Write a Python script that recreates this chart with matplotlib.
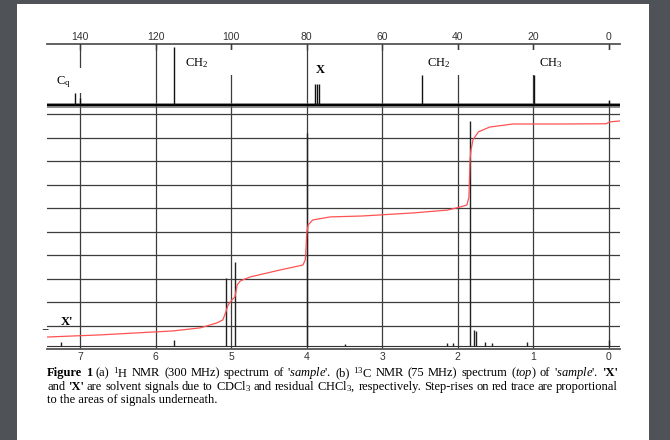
import numpy as np
import matplotlib.pyplot as plt
from matplotlib.patches import Rectangle

plt.rcParams['font.family'] = ['Liberation Sans', 'DejaVu Sans']
plt.rcParams['mathtext.fontset'] = 'custom'
plt.rcParams['mathtext.rm'] = 'Liberation Serif'
plt.rcParams['mathtext.it'] = 'Liberation Serif:italic'
plt.rcParams['mathtext.bf'] = 'Liberation Serif:bold'

# 1H spectrum (bottom scale): peak shifts in ppm, peak tops in grid units
h_ppm  = [7.25, 5.76, 5.07, 4.95, 4.00, 3.49, 2.14, 2.06, 1.84, 1.78, 1.76, 1.64, 1.55, 1.08, 0.00]
h_top  = [0.30, 0.38, 3.03, 3.71, 9.21, 0.22, 0.26, 0.26, 9.72, 0.81, 0.78, 0.30, 0.26, 0.30, 0.38]
h_base = 0.13

# 13C spectrum (top scale)
c_ppm  = [141.3, 140.0, 115.2, 77.7, 77.2, 76.7, 49.5, 19.8, 0.0]
c_top  = [10.91, 10.70, 12.87, 11.30, 11.30, 11.30, 11.68, 11.68, 10.62]
c_base = 10.40

int_ppm = [7.44, 6.74, 5.77, 5.41, 5.19, 5.11, 5.07, 5.04, 4.99, 4.95, 4.92, 4.88,
           4.75, 4.35, 4.05, 4.02, 4.01, 4.00, 3.98, 3.92, 3.69, 3.26, 2.59, 2.14,
           1.97, 1.88, 1.853, 1.839, 1.826, 1.80, 1.73, 1.58, 1.27, 0.65, 0.04,
           -0.01, -0.15]
int_val = [0.51, 0.60, 0.77, 0.90, 1.11, 1.24, 1.58, 1.88, 2.09, 2.22, 2.73, 2.90,
           3.07, 3.37, 3.58, 3.79, 4.22, 4.94, 5.29, 5.50, 5.63, 5.67, 5.80, 5.92,
           6.05, 6.14, 6.48, 8.06, 8.48, 8.91, 9.25, 9.46, 9.59, 9.59, 9.60,
           9.68, 9.72]

h_ticks = [7, 6, 5, 4, 3, 2, 1, 0]
c_ticks = [140, 120, 100, 80, 60, 40, 20, 0]

labels = [("C$_\\mathrm{q}$", 7.225, 11.38, 'normal'),
          ("CH$_2$", 5.45, 12.19, 'normal'),
          ("X", 3.82, 11.89, 'bold'),
          ("CH$_2$", 2.25, 12.19, 'normal'),
          ("CH$_3$", 0.77, 12.19, 'normal'),
          ("X'", 7.17, 1.15, 'bold')]

# caption words, (text, bold); lines 1 and 2 are justified
cap1 = [("Figure", 1), ("1", 1), ("(a)", 0), ("$^{1}$H", 0), ("NMR", 0), ("(300", 0),
        ("MHz)", 0), ("spectrum", 0), ("of", 0), ("'$\\mathit{sample}$'.", 0), ("(b)", 0),
        ("$^{13}$C", 0), ("NMR", 0), ("(75", 0), ("MHz)", 0), ("spectrum", 0),
        ("($\\mathit{top}$)", 0), ("of", 0), ("'$\\mathit{sample}$'.", 0), ("'X'", 1)]
cap2 = [("and", 0), ("'X'", 1), ("are", 0), ("solvent", 0), ("signals", 0), ("due", 0),
        ("to", 0), ("CDCl$_3$", 0), ("and", 0), ("residual", 0), ("CHCl$_3$,", 0),
        ("respectively.", 0), ("Step-rises", 0), ("on", 0), ("red", 0), ("trace", 0),
        ("are", 0), ("proportional", 0)]
cap3 = "to the areas of signals underneath."

fig = plt.figure(figsize=(6.7, 4.4), dpi=100, facecolor='#4f5357')
fig.add_artist(Rectangle((17/670, 0), 632/670, 436/440, transform=fig.transFigure,
                         facecolor='white', edgecolor='none', zorder=-10))

ax = fig.add_axes([47/670, 91/440, 573/670, 305/440])
ax.set_facecolor('none')
ax.set_xlim(7.437, -0.146)
ax.set_ylim(0, 13)

# grid
for v in h_ticks:
    ax.axvline(v, color='#3c3c3c', lw=0.9, zorder=1)
for k in range(1, 11):
    ax.axhline(k, color='#3c3c3c', lw=0.9, zorder=1)

# white label boxes hiding the grid in the 13C strip
for x0, x1, y0, y1 in [(7.40, 6.89, 10.91, 11.98), (5.68, 4.94, 11.68, 12.75),
                       (2.435, 1.945, 11.68, 12.75), (1.045, -0.08, 11.68, 12.75),
                       (0.08, -0.08, 10.55, 11.68)]:
    ax.add_patch(Rectangle((x1, y0), x0 - x1, y1 - y0, facecolor='white',
                           edgecolor='none', zorder=1.5))

# 1H spectrum
ax.axhline(h_base, color='#333333', lw=0.8, zorder=3)
ax.vlines(h_ppm, h_base, h_top, color='#222222', lw=1.0, zorder=3)

# 13C spectrum (fuzzy noisy baseline)
ax.axhline(c_base, color='#555555', lw=3.4, alpha=0.75, zorder=2.8)
ax.axhline(c_base, color='#000000', lw=1.4, zorder=3)
ax.vlines(np.array(c_ppm) / 20, c_base, c_top, color='#111111', lw=1.0, zorder=3)

# integral
ax.plot(int_ppm, int_val, color='#ff5252', lw=0.9, zorder=4)

for txt, x, y, w in labels:
    ax.text(x, y, txt, ha='center', va='center', fontsize=9, fontweight=w,
            family='Liberation Serif', zorder=5)
ax.text(7.47, 1.0, "_", ha='center', va='center', fontsize=7, clip_on=False)

for s in ['left', 'right', 'top']:
    ax.spines[s].set_visible(False)
ax.spines['bottom'].set_color('#555555')
ax.spines['bottom'].set_linewidth(1.3)
ax.set_yticks([])
ax.set_xticks(h_ticks)
ax.tick_params(axis='x', length=0, pad=2.0, labelsize=7.5, labelcolor='#333333')

sec = ax.secondary_xaxis('top', functions=(lambda x: x * 20, lambda x: x / 20))
sec.set_xticks(c_ticks)
sec.tick_params(direction='in', length=4.5, width=1, color='#333333', pad=1.5,
                labelsize=7.5, labelcolor='#333333')
sec.spines['top'].set_color('#555555')
sec.spines['top'].set_linewidth(1.3)

# caption
renderer = fig.canvas.get_renderer()
x_left, x_right = 47, 618
cap_fs = 9.0


def justify(words, ypix):
    arts = []
    for w, b in words:
        t = fig.text(0, 1 - ypix/440, w, ha='left', va='center', fontsize=cap_fs,
                     family='Liberation Serif', fontweight='bold' if b else 'normal')
        arts.append(t)
    widths = [t.get_window_extent(renderer).width for t in arts]
    gap = (x_right - x_left - sum(widths)) / (len(arts) - 1)
    x = x_left
    for t, wd in zip(arts, widths):
        t.set_x(x / 670)
        x += wd + gap


justify(cap1, 373)
justify(cap2, 386.5)
fig.text(x_left/670, 1 - 400/440, cap3, ha='left', va='center', fontsize=cap_fs,
         family='Liberation Serif')

fig.savefig('out.png', dpi=100, facecolor=fig.get_facecolor())
